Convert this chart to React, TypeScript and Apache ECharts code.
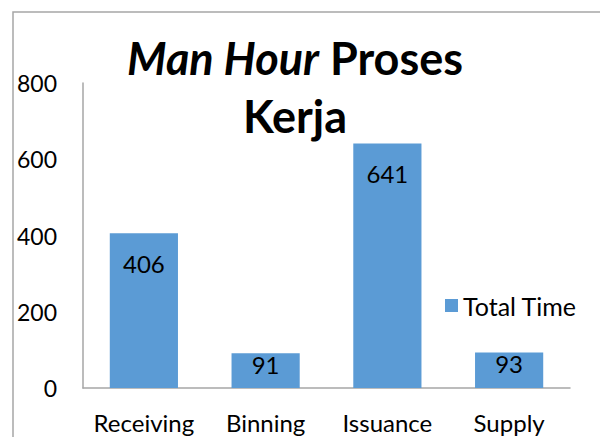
import React, { useEffect, useRef } from "react";
import * as echarts from "echarts";

const categories = ["Receiving", "Binning", "Issuance", "Supply"];
const totalTime = [406, 91, 641, 93];
const seriesName = "Total Time";

const FONT = "Lato";

export default function App() {
  const ref = useRef<HTMLDivElement>(null);
  useEffect(() => {
    const chart = echarts.init(ref.current!, null, { renderer: "svg" });
    chart.setOption({
      animation: false,
      backgroundColor: "#ffffff",
      textStyle: { fontFamily: FONT },
      title: {
        left: 290,
        top: 24,
        textAlign: "center",
        text: "{i|Man Hour}{b| Proses}\n{b|Kerja}",
        textStyle: {
          rich: {
            i: { fontFamily: FONT, fontSize: 45, fontWeight: "bold", fontStyle: "italic", color: "#000", lineHeight: 58 },
            b: { fontFamily: FONT, fontSize: 45, fontWeight: "bold", color: "#000", lineHeight: 58 },
          },
        },
      },
      graphic: [
        {
          type: "rect",
          shape: { x: 13, y: 12, width: 800, height: 600 },
          style: { fill: "none", stroke: "#a6a6a6", lineWidth: 1.5 },
          silent: true,
        },
      ],
      legend: {
        left: 440,
        top: 288,
        itemWidth: 13,
        itemHeight: 13,
        itemGap: 8,
        data: [{ name: seriesName, icon: "rect" }],
        textStyle: { fontFamily: FONT, fontSize: 25, color: "#000" },
      },
      grid: { left: 83, right: 30, top: 83, bottom: 49 },
      xAxis: {
        type: "category",
        data: categories,
        axisLine: { lineStyle: { color: "#a6a6a6", width: 1.5 } },
        axisTick: { show: false },
        axisLabel: { interval: 0, fontFamily: FONT, fontSize: 24, color: "#000", margin: 22 },
      },
      yAxis: {
        type: "value",
        min: 0,
        max: 800,
        interval: 200,
        axisLine: { show: true, lineStyle: { color: "#a6a6a6", width: 1.5 } },
        axisTick: { show: false },
        splitLine: { show: false },
        axisLabel: { fontFamily: FONT, fontSize: 23, color: "#000", margin: 26 },
      },
      series: [
        {
          name: seriesName,
          type: "bar",
          barWidth: "56%",
          itemStyle: { color: "#5b9bd5" },
          data: totalTime.map((v) => ({
            value: v,
            label: { distance: v > 200 ? 18 : -1 },
          })),
          label: {
            show: true,
            position: "insideTop",
            fontFamily: FONT,
            fontSize: 24,
            color: "#000",
          },
        },
      ],
    });
    return () => chart.dispose();
  }, []);
  return <div ref={ref} style={{ width: 600, height: 437, position: "absolute", left: 0, top: 0 }} />;
}
